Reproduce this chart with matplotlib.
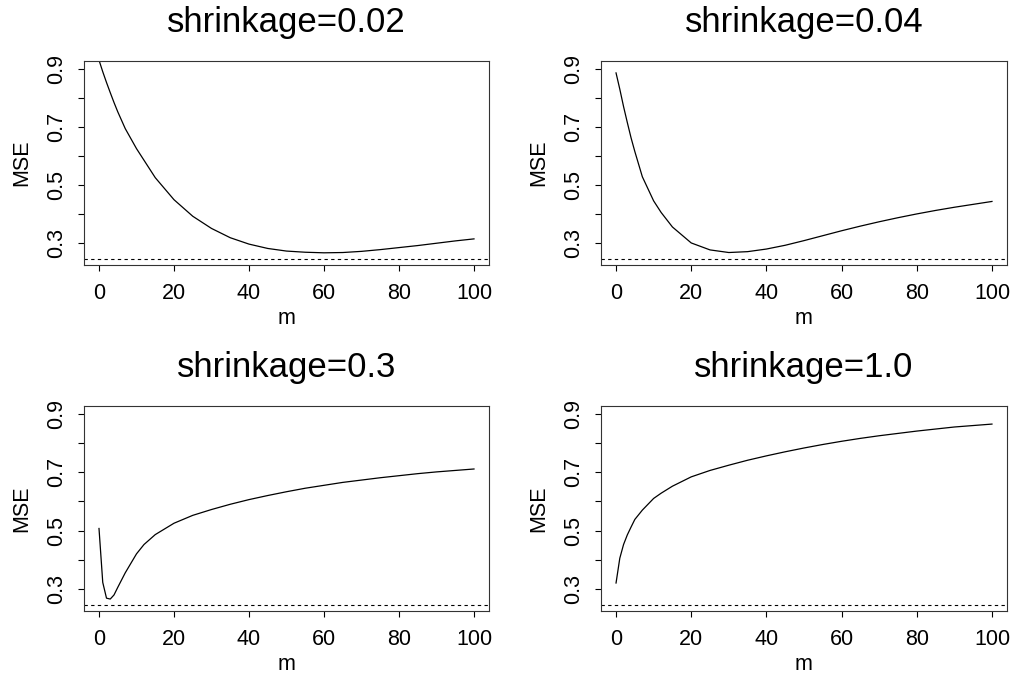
import matplotlib
matplotlib.use("Agg")
import matplotlib.pyplot as plt
from matplotlib.ticker import FixedLocator

plt.rcParams['font.family'] = ['Liberation Sans', 'DejaVu Sans']

# number of boosting iterations
m = [0, 1, 2, 3, 4, 5, 7, 10, 12, 15, 20, 25, 30, 35, 40, 45, 50,
     55, 60, 65, 70, 75, 80, 85, 90, 95, 100]

mse_002 = [0.930, 0.890, 0.853, 0.818, 0.784, 0.752, 0.694, 0.625, 0.585,
           0.525, 0.449, 0.392, 0.350, 0.318, 0.296, 0.281, 0.272, 0.268,
           0.266, 0.267, 0.271, 0.277, 0.284, 0.291, 0.299, 0.307, 0.314]
mse_004 = [0.886, 0.830, 0.770, 0.715, 0.662, 0.615, 0.528, 0.445, 0.405,
           0.355, 0.300, 0.276, 0.267, 0.270, 0.279, 0.292, 0.308, 0.325,
           0.342, 0.358, 0.373, 0.387, 0.400, 0.412, 0.423, 0.433, 0.443]
mse_03 = [0.507, 0.322, 0.268, 0.265, 0.279, 0.305, 0.355, 0.420, 0.452,
          0.486, 0.525, 0.552, 0.572, 0.590, 0.606, 0.620, 0.633, 0.645,
          0.655, 0.665, 0.673, 0.681, 0.688, 0.695, 0.701, 0.706, 0.711]
mse_10 = [0.320, 0.405, 0.452, 0.485, 0.512, 0.538, 0.570, 0.610, 0.628,
          0.652, 0.684, 0.706, 0.724, 0.741, 0.756, 0.770, 0.783, 0.795,
          0.806, 0.816, 0.825, 0.833, 0.841, 0.848, 0.855, 0.860, 0.865]

titles = ["shrinkage=0.02", "shrinkage=0.04", "shrinkage=0.3", "shrinkage=1.0"]
series = [mse_002, mse_004, mse_03, mse_10]
baseline = 0.245

W, H = 1018, 677
fig = plt.figure(figsize=(W / 100, H / 100), dpi=100)

# axes boxes in pixels (left, top, right, bottom)
boxes = [(84, 61, 489, 265), (601, 61, 1007, 265),
         (84, 406, 489, 611), (601, 406, 1007, 611)]

for (l, t, r, b), title, y in zip(boxes, titles, series):
    ax = fig.add_axes([l / W, 1 - b / H, (r - l) / W, (b - t) / H])
    ax.plot(m, y, color='black', lw=0.9)
    ax.axhline(baseline, color='black', lw=0.8, ls=(0, (3, 3)))
    ax.set_xlim(-4, 104)
    ax.set_ylim(0.224, 0.927)
    ax.set_xticks([0, 20, 40, 60, 80, 100])
    ax.set_yticks([0.3, 0.5, 0.7, 0.9])
    ax.set_yticklabels(["0.3", "0.5", "0.7", "0.9"], rotation=90, va='center')
    ax.yaxis.set_minor_locator(FixedLocator([0.4, 0.6, 0.8]))
    ax.tick_params(which='both', direction='out', length=4, width=0.8,
                   labelsize=15.5, color='black')
    ax.tick_params(axis='x', pad=9)
    ax.tick_params(axis='y', pad=8)
    for s in ax.spines.values():
        s.set_linewidth(0.8)
        s.set_color('#333333')
    ax.set_title(title, fontsize=25, pad=21)
    ax.set_xlabel("m", fontsize=15.5, va='center', ha='center')
    ax.set_ylabel("MSE", fontsize=15.5, va='center', ha='center')
    ax.xaxis.set_label_coords(0.5, -0.26)
    ax.yaxis.set_label_coords(-0.153, 0.5)

fig.savefig("out.png", dpi=100)
